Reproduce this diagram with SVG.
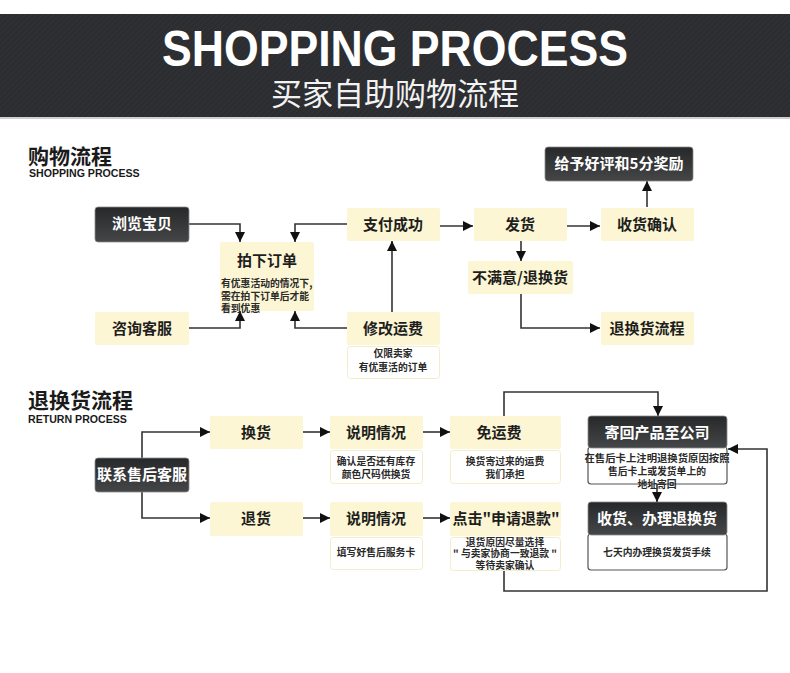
<svg xmlns="http://www.w3.org/2000/svg" width="790" height="673" viewBox="0 0 790 673">
<style>
.cn{font-family:"Noto Sans CJK SC","Noto Sans",sans-serif;}
.lbl{font-size:15px;font-weight:700;fill:#1e1e1e;text-anchor:middle;}
.wl{font-size:15px;font-weight:700;fill:#ffffff;text-anchor:middle;}
.sm{font-size:9.8px;font-weight:700;fill:#2a2a2a;}
.smc{font-size:9.8px;font-weight:700;fill:#2a2a2a;text-anchor:middle;}
.y{fill:#fcf6d4;}
.d{fill:url(#dg);stroke:#8a8a8a;stroke-width:0.8;}
.sub{fill:#ffffff;stroke:#f3edcc;stroke-width:1;}
.subd{fill:#ffffff;stroke:#555555;stroke-width:1.2;}
.c{fill:none;stroke:#333333;stroke-width:1.6;}
.en{font-family:"Liberation Sans",Arial,sans-serif;font-weight:700;}
</style>
<defs>
<linearGradient id="dg" x1="0" y1="0" x2="0" y2="1">
<stop offset="0" stop-color="#27282a"/>
<stop offset="1" stop-color="#454648"/>
</linearGradient>
<pattern id="diag" width="4" height="4" patternUnits="userSpaceOnUse" patternTransform="rotate(45)">
<rect width="4" height="4" fill="#2b2d31"/>
<line x1="0" y1="0" x2="0" y2="4" stroke="#313337" stroke-width="1.5"/>
</pattern>
<marker id="ah" markerUnits="userSpaceOnUse" markerWidth="10" markerHeight="10" refX="10" refY="5" orient="auto">
<path d="M0,0 L10,5 L0,10 z" fill="#111111"/>
</marker>
</defs>
<rect width="790" height="673" fill="#ffffff"/>
<g id="header">
<rect x="0" y="14" width="790" height="104" fill="url(#diag)"/>
<rect x="0" y="117" width="790" height="2" fill="#cfcfcf"/>
<text class="en" x="395" y="66" font-size="50" fill="#ffffff" text-anchor="middle" textLength="466" lengthAdjust="spacingAndGlyphs">SHOPPING PROCESS</text>
<text class="cn" x="395" y="105" font-size="31" fill="#f2f2f2" text-anchor="middle">买家自助购物流程</text>
</g>
<g id="section1-title">
<text class="cn" x="28" y="164" font-size="21" font-weight="700" fill="#1a1a1a">购物流程</text>
<text class="en" x="29" y="177" font-size="10.6" fill="#1a1a1a">SHOPPING PROCESS</text>
</g>
<g id="section2-title">
<text class="cn" x="28" y="408" font-size="21" font-weight="700" fill="#1a1a1a">退换货流程</text>
<text class="en" x="28" y="423" font-size="10.6" fill="#1a1a1a">RETURN PROCESS</text>
</g>
<g id="connectors">
<polyline class="c" points="189,224 240,224 240,242" marker-end="url(#ah)"/>
<polyline class="c" points="347,224 295,224 295,242" marker-end="url(#ah)"/>
<polyline class="c" points="189,328 240,328 240,311" marker-end="url(#ah)"/>
<polyline class="c" points="347,328 295,328 295,311" marker-end="url(#ah)"/>
<polyline class="c" points="392,312 392,241" marker-end="url(#ah)"/>
<polyline class="c" points="440,226 473,226" marker-end="url(#ah)"/>
<polyline class="c" points="567,226 600,226" marker-end="url(#ah)"/>
<polyline class="c" points="647,207 647,181" marker-end="url(#ah)"/>
<polyline class="c" points="521,241 521,261" marker-end="url(#ah)"/>
<polyline class="c" points="521,294 521,328 600,328" marker-end="url(#ah)"/>
<polyline class="c" points="142,458 142,432 210,432" marker-end="url(#ah)"/>
<polyline class="c" points="142,492 142,518 210,518" marker-end="url(#ah)"/>
<polyline class="c" points="303,432 330,432" marker-end="url(#ah)"/>
<polyline class="c" points="303,518 330,518" marker-end="url(#ah)"/>
<polyline class="c" points="423,432 450,432" marker-end="url(#ah)"/>
<polyline class="c" points="423,518 450,518" marker-end="url(#ah)"/>
<polyline class="c" points="504,416 504,392 658,392 658,416" marker-end="url(#ah)"/>
<polyline class="c" points="504,571 504,591 767,591 767,449 728,449" marker-end="url(#ah)"/>
</g>
<g id="n-browse">
<rect class="d" x="95" y="207" width="94" height="35" rx="3"/>
<text class="cn wl" x="142" y="229">浏览宝贝</text>
</g>
<g id="n-order">
<rect class="y" x="220" y="242" width="94" height="69" rx="2"/>
<text class="cn lbl" x="267" y="266">拍下订单</text>
<text class="cn sm" x="221" y="287">有优惠活动的情况下,</text>
<text class="cn sm" x="221" y="300">需在拍下订单后才能</text>
<text class="cn sm" x="221" y="312">看到优惠</text>
</g>
<g id="n-consult">
<rect class="y" x="95" y="312" width="94" height="33" rx="2"/>
<text class="cn lbl" x="142" y="334">咨询客服</text>
</g>
<g id="n-pay">
<rect class="y" x="347" y="208" width="93" height="33" rx="2"/>
<text class="cn lbl" x="393" y="230">支付成功</text>
</g>
<g id="n-modify">
<rect class="y" x="347" y="312" width="93" height="33" rx="2"/>
<text class="cn lbl" x="393" y="334">修改运费</text>
<rect class="sub" x="347.5" y="346.5" width="92" height="32" rx="3"/>
<text class="cn smc" x="393" y="357">仅限卖家</text>
<text class="cn smc" x="393" y="371">有优惠活的订单</text>
</g>
<g id="n-ship">
<rect class="y" x="474" y="208" width="93" height="33" rx="2"/>
<text class="cn lbl" x="520" y="230">发货</text>
</g>
<g id="n-unhappy">
<rect class="y" x="468" y="261" width="105" height="33" rx="2"/>
<text class="cn lbl" x="520" y="283">不满意/退换货</text>
</g>
<g id="n-review">
<rect class="d" x="545" y="147" width="148" height="34" rx="3"/>
<text class="cn wl" x="619" y="169">给予好评和5分奖励</text>
</g>
<g id="n-receive">
<rect class="y" x="601" y="208" width="93" height="33" rx="2"/>
<text class="cn lbl" x="647" y="230">收货确认</text>
</g>
<g id="n-returnflow">
<rect class="y" x="601" y="312" width="93" height="33" rx="2"/>
<text class="cn lbl" x="647" y="334">退换货流程</text>
</g>
<g id="n-service">
<rect class="d" x="95" y="458" width="94" height="34" rx="3"/>
<text class="cn wl" x="142" y="480">联系售后客服</text>
</g>
<g id="n-exchange">
<rect class="y" x="210" y="416" width="93" height="33" rx="2"/>
<text class="cn lbl" x="256" y="438">换货</text>
</g>
<g id="n-explain1">
<rect class="y" x="330" y="416" width="93" height="33" rx="2"/>
<text class="cn lbl" x="376" y="438">说明情况</text>
<rect class="sub" x="330.5" y="450.5" width="92" height="33" rx="3"/>
<text class="cn smc" x="376" y="465">确认是否还有库存</text>
<text class="cn smc" x="376" y="478">颜色尺码供换货</text>
</g>
<g id="n-refund">
<rect class="y" x="210" y="502" width="93" height="34" rx="2"/>
<text class="cn lbl" x="256" y="524">退货</text>
</g>
<g id="n-explain2">
<rect class="y" x="330" y="502" width="93" height="34" rx="2"/>
<text class="cn lbl" x="376" y="524">说明情况</text>
<rect class="sub" x="330.5" y="537.5" width="92" height="32" rx="3"/>
<text class="cn smc" x="376" y="556">填写好售后服务卡</text>
</g>
<g id="n-freeship">
<rect class="y" x="450" y="416" width="111" height="33" rx="2"/>
<text class="cn lbl" x="499" y="438">免运费</text>
<rect class="sub" x="450.5" y="450.5" width="110" height="33" rx="3"/>
<text class="cn smc" x="505" y="465">换货寄过来的运费</text>
<text class="cn smc" x="505" y="478">我们承担</text>
</g>
<g id="n-applyrefund">
<rect class="y" x="450" y="502" width="111" height="34" rx="2"/>
<text class="cn lbl" x="506" y="524">点击"申请退款"</text>
<rect class="sub" x="450.5" y="537.5" width="110" height="33" rx="3"/>
<text class="cn smc" x="505" y="546">退货原因尽量选择</text>
<text class="cn smc" x="505" y="557">" 与卖家协商一致退款 "</text>
<text class="cn smc" x="505" y="569">等待卖家确认</text>
</g>
<g id="n-sendback">
<rect class="subd" x="588" y="447" width="139" height="37" rx="3"/>
<rect class="d" x="588" y="416" width="139" height="32" rx="3"/>
<text class="cn wl" x="657" y="438">寄回产品至公司</text>
<text class="cn smc" x="657" y="462" textLength="145" lengthAdjust="spacingAndGlyphs">在售后卡上注明退换货原因按照</text>
<text class="cn smc" x="657" y="475">售后卡上或发货单上的</text>
<text class="cn smc" x="657" y="488">地址寄回</text>
</g>
<g id="n-handle">
<rect class="subd" x="588" y="534" width="139" height="36" rx="3"/>
<rect class="d" x="588" y="502" width="139" height="33" rx="3"/>
<text class="cn wl" x="657" y="524">收货、办理退换货</text>
<text class="cn smc" x="657" y="556">七天内办理换货发货手续</text>
</g>
<g id="connector-overlay">
<polyline class="c" points="657,484 657,502" marker-end="url(#ah)"/>
</g>
</svg>
